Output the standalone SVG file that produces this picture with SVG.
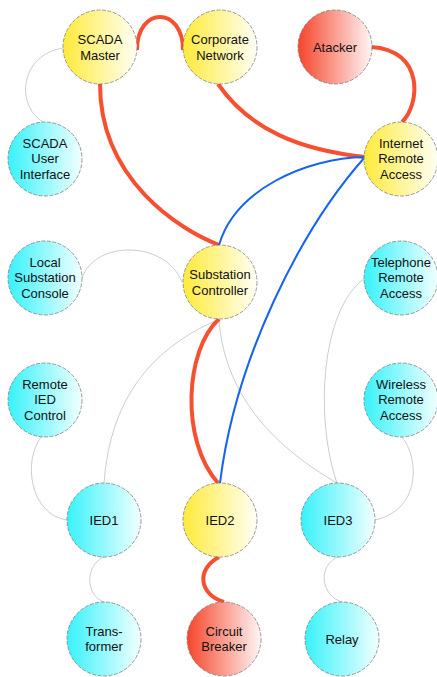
<svg xmlns="http://www.w3.org/2000/svg" width="437" height="677" viewBox="0 0 437 677">
<defs>
<linearGradient id="gy" x1="0" y1="0" x2="1" y2="0"><stop offset="0" stop-color="#FFEA3A"/><stop offset="1" stop-color="#FFFFF6"/></linearGradient>
<linearGradient id="gc" x1="0" y1="0" x2="1" y2="0"><stop offset="0" stop-color="#38F2FA"/><stop offset="1" stop-color="#F2FFFF"/></linearGradient>
<linearGradient id="gr" x1="0" y1="0" x2="1" y2="0"><stop offset="0" stop-color="#F5452A"/><stop offset="1" stop-color="#FFF6F6"/></linearGradient>
<style>
circle{stroke:#707070;stroke-width:0.7;stroke-dasharray:4 1.5}
.y{fill:url(#gy)}.c{fill:url(#gc)}.r{fill:url(#gr)}
text{font-family:"Liberation Sans",Arial,sans-serif;font-size:13px;fill:#111;text-anchor:middle}
path{fill:none}
.red{stroke:#F5502F;stroke-width:4}
.blue{stroke:#1464F0;stroke-width:2}
.gray{stroke:#9A9A9A;stroke-width:0.5}
</style>
</defs>
<g id="connectors">
<path class="gray" d="M63,48 C20,55 15,105 43,122"/>
<path class="gray" d="M82,278 C95,240 165,240 182,282"/>
<path class="gray" d="M215,321 C150,350 110,400 104,483"/>
<path class="gray" d="M219,320 C225,400 280,450 337,483"/>
<path class="gray" d="M365,278 C320,310 315,420 337,483"/>
<path class="gray" d="M42,436 C22,460 30,515 67,520"/>
<path class="gray" d="M402,437 C420,460 420,510 375,520"/>
<path class="gray" d="M104,557 C85,565 85,595 104,602"/>
<path class="gray" d="M338,557 C318,565 320,595 342,602"/>
<path class="red" d="M137,50 C137,6 183,6 183,50"/>
<path class="red" d="M100,84 C100,180 180,230 219,245"/>
<path class="red" d="M218,84 C250,130 300,150 365,157"/>
<path class="red" d="M371,47 C425,50 420,105 402,122"/>
<path class="blue" d="M365,157 C305,158 235,190 219,245"/>
<path class="blue" d="M365,157 C300,230 235,360 220,483"/>
<path class="red" d="M219,319 C185,350 180,440 218,483"/>
<path class="red" d="M219,557 C195,570 200,595 224,602"/>
</g>
<g id="scada-master"><circle class="y" cx="100" cy="47" r="37"/><text x="100" y="44">SCADA</text><text x="100" y="59.5">Master</text></g>
<g id="corporate-network"><circle class="y" cx="220" cy="47" r="37"/><text x="220" y="44">Corporate</text><text x="220" y="59.5">Network</text></g>
<g id="atacker"><circle class="r" cx="335" cy="47" r="37"/><text x="335" y="51.5">Atacker</text></g>
<g id="scada-user-interface"><circle class="c" cx="45" cy="159" r="37"/><text x="45" y="147.5">SCADA</text><text x="45" y="163">User</text><text x="45" y="178.5">Interface</text></g>
<g id="internet-remote-access"><circle class="y" cx="401" cy="159" r="37"/><text x="401" y="147.5">Internet</text><text x="401" y="163">Remote</text><text x="401" y="178.5">Access</text></g>
<g id="local-substation-console"><circle class="c" cx="45" cy="278" r="37"/><text x="45" y="266.5">Local</text><text x="45" y="282">Substation</text><text x="45" y="297.5">Console</text></g>
<g id="substation-controller"><circle class="y" cx="220" cy="282" r="37"/><text x="220" y="279">Substation</text><text x="220" y="294.5">Controller</text></g>
<g id="telephone-remote-access"><circle class="c" cx="401" cy="278" r="37"/><text x="401" y="266.5">Telephone</text><text x="401" y="282">Remote</text><text x="401" y="297.5">Access</text></g>
<g id="remote-ied-control"><circle class="c" cx="45" cy="400" r="37"/><text x="45" y="388.5">Remote</text><text x="45" y="404">IED</text><text x="45" y="419.5">Control</text></g>
<g id="wireless-remote-access"><circle class="c" cx="401" cy="400" r="37"/><text x="401" y="388.5">Wireless</text><text x="401" y="404">Remote</text><text x="401" y="419.5">Access</text></g>
<g id="ied1"><circle class="c" cx="104" cy="520" r="37"/><text x="104" y="524.5">IED1</text></g>
<g id="ied2"><circle class="y" cx="220" cy="520" r="37"/><text x="220" y="524.5">IED2</text></g>
<g id="ied3"><circle class="c" cx="338" cy="520" r="37"/><text x="338" y="524.5">IED3</text></g>
<g id="transformer"><circle class="c" cx="104" cy="639" r="37"/><text x="104" y="635.5">Trans-</text><text x="104" y="651">former</text></g>
<g id="circuit-breaker"><circle class="r" cx="224" cy="639" r="37"/><text x="224" y="635.5">Circuit</text><text x="224" y="651">Breaker</text></g>
<g id="relay"><circle class="c" cx="342" cy="639" r="37"/><text x="342" y="643.5">Relay</text></g>
</svg>
